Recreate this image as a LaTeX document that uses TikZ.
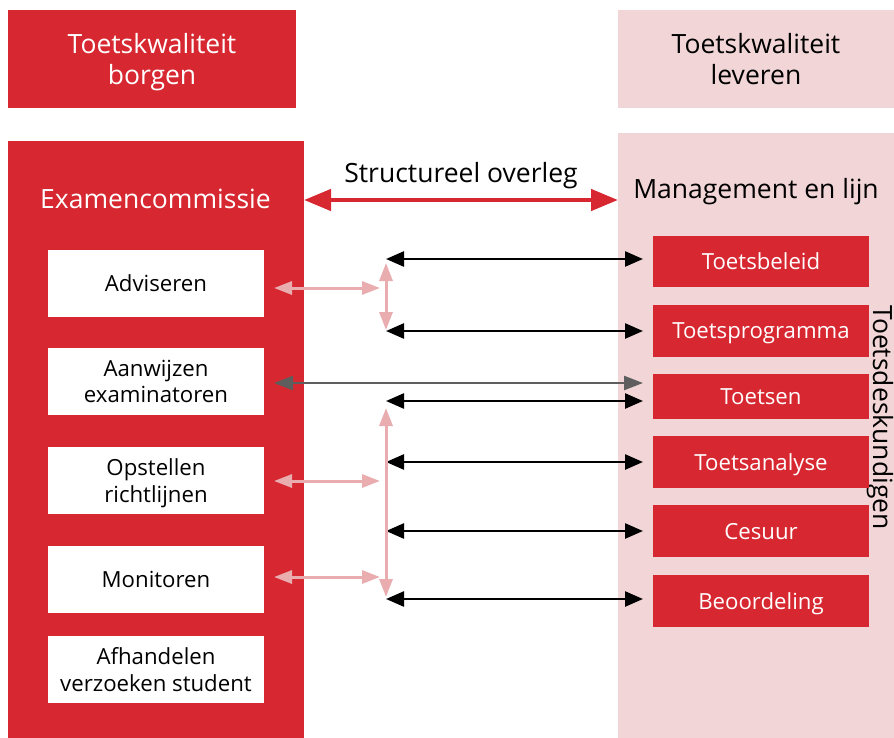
\documentclass[tikz,border=0pt]{standalone}
\usepackage{fontspec}
\setmainfont{Open Sans}
\usetikzlibrary{arrows.meta}
\definecolor{hsred}{HTML}{D72730}
\definecolor{hspink}{HTML}{F2D6D7}
\definecolor{hsrose}{HTML}{E9ADB0}
\definecolor{hsgray}{HTML}{5E5E5E}
\begin{document}
\begin{tikzpicture}[x=1pt,y=-1pt,
  panel/.style={rectangle, inner sep=0pt, outer sep=0pt, align=center},
  headbox/.style={panel, minimum height=98pt, text depth=0pt,
    font=\fontsize{26.5}{31}\selectfont},
  titletext/.style={anchor=base, inner sep=0pt, font=\fontsize{26.5}{30}\selectfont},
  taskbox/.style={panel, fill=white, minimum width=216pt, minimum height=67pt,
    text depth=0pt, font=\fontsize{22.2}{26.5}\selectfont},
  areabox/.style={panel, fill=hsred, text=white, minimum width=216pt,
    text depth=0pt, font=\fontsize{22.2}{26.5}\selectfont},
  blackarrow/.style={draw=black, line width=2.5pt,
    {Triangle[length=18pt,width=15pt]}-{Triangle[length=18pt,width=15pt]}},
  grayarrow/.style={draw=hsgray, line width=2.4pt,
    {Triangle[length=19pt,width=14pt]}-{Triangle[length=19pt,width=14pt]}},
  rosearrow/.style={draw=hsrose, line width=3pt,
    {Triangle[length=18pt,width=13pt]}-{Triangle[length=18pt,width=13pt]}},
  redarrow/.style={draw=hsred, line width=4.5pt,
    {Triangle[length=27pt,width=21pt]}-{Triangle[length=27pt,width=21pt]}}
]
\useasboundingbox (0,0) rectangle (894,738);

% headers
\node[headbox, fill=hsred, text=white, minimum width=288pt] (hl) at (152,59)
  {Toetskwaliteit\\borgen};
\node[headbox, fill=hspink, minimum width=276pt] (hr) at (756,59)
  {Toetskwaliteit\\leveren};

% the two columns
\node[panel, fill=hsred, minimum width=296pt, minimum height=597pt] (ec) at (156,439.5) {};
\node[panel, fill=hspink, minimum width=276pt, minimum height=605pt] (ml) at (756,435.5) {};

\node[titletext, text=white] (ect) at (155.5,208) {Examencommissie};
\node[titletext] (mlt) at (756,199) {Management en lijn};
\node[titletext] (so) at (461,183) {Structureel overleg};
\node[titletext, rotate=-90] (td) at (873,417.5) {Toetsdeskundigen};

% tasks of the examination board
\node[taskbox] (adv) at (156,283.5) {Adviseren};
\node[taskbox] (aw)  at (156,381.5) {Aanwijzen\\examinatoren};
\node[taskbox] (op)  at (156,480.5) {Opstellen\\richtlijnen};
\node[taskbox] (mo)  at (156,579.5) {Monitoren};
\node[taskbox] (af)  at (156,669.5) {Afhandelen\\verzoeken student};

% assessment areas
\node[areabox, minimum height=51pt] (tb) at (761,261.5) {Toetsbeleid};
\node[areabox, minimum height=52pt] (tp) at (761,331)   {Toetsprogramma};
\node[areabox, minimum height=45pt] (ts) at (761,396.5) {Toetsen};
\node[areabox, minimum height=52pt] (ta) at (761,462)   {Toetsanalyse};
\node[areabox, minimum height=52pt] (ce) at (761,531)   {Cesuur};
\node[areabox, minimum height=52pt] (be) at (761,601)   {Beoordeling};

% structural consultation
\coordinate (ov) at (461,200);
\draw[redarrow] (ec.east |- ov) -- (ml.west |- ov);

% trunk of the consultation lines
\coordinate (tr) at (386,0);
\coordinate (u1) at (386,263);
\coordinate (u2) at (386,330);
\coordinate (l1) at (386,408);
\coordinate (l2) at (386,597);

\draw[blackarrow] (tr |- 0,259) -- ([xshift=-10pt,yshift=2.5pt]tb.west);
\draw[blackarrow] (tr |- tp.west) -- ([xshift=-10pt]tp.west);
\draw[blackarrow] (tr |- 0,401) -- ([xshift=-10pt,yshift=-4.5pt]ts.west);
\draw[blackarrow] (tr |- ta.west) -- ([xshift=-10pt]ta.west);
\draw[blackarrow] (tr |- ce.west) -- ([xshift=-10pt]ce.west);
\draw[blackarrow] (tr |- 0,599) -- ([xshift=-10pt,yshift=2pt]be.west);

\draw[rosearrow] (u1) -- (u2);
\draw[rosearrow] (l1) -- (l2);

\draw[rosearrow] ([xshift=10pt,yshift=-4.5pt]adv.east) -- ++(106,0);
\draw[rosearrow] ([xshift=10pt,yshift=-0.5pt]op.east) -- ++(106,0);
\draw[rosearrow] ([xshift=10pt,yshift=2.5pt]mo.east) -- ++(106,0);

\draw[grayarrow] ([xshift=10pt,yshift=-1.5pt]aw.east) -- ([xshift=-10pt,yshift=13.5pt]ts.west);
\end{tikzpicture}
\end{document}
